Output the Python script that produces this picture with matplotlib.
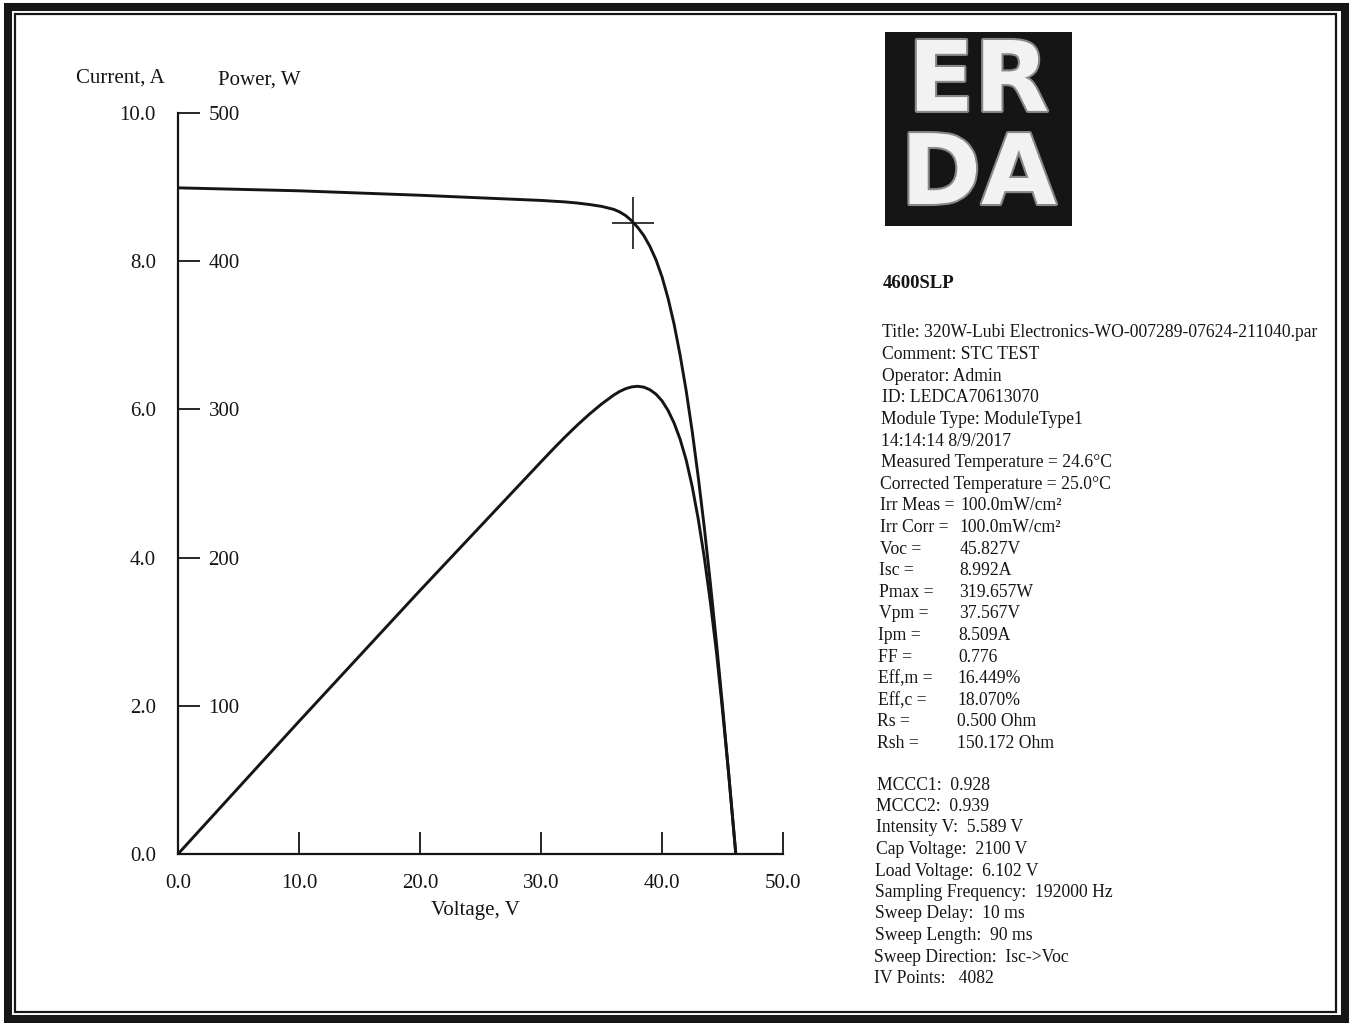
import matplotlib
matplotlib.use("Agg")
import matplotlib.pyplot as plt
from matplotlib.patches import Rectangle
import matplotlib.patheffects as pe

# ---------------- data ----------------
voltage = [0, 10, 20, 30, 31, 32, 33, 34, 35, 36, 36.5, 37, 37.5, 38, 38.5, 39,
           39.5, 40, 40.5, 41, 41.5, 42, 42.5, 43, 43.5, 44, 44.5, 45, 45.5, 46.1]
current = [8.99, 8.95, 8.89, 8.82, 8.81, 8.80, 8.785, 8.765, 8.74, 8.70, 8.665,
           8.615, 8.545, 8.455, 8.345, 8.20, 8.02, 7.79, 7.50, 7.15, 6.73, 6.25,
           5.70, 5.08, 4.40, 3.65, 2.85, 2.00, 1.10, 0.0]
power = [0, 89.5, 177.8, 264.6, 273.2, 281.5, 289.4, 296.8, 303.6, 309.6, 312.1,
         314.0, 315.2, 315.6, 315.0, 313.3, 310.3, 305.8, 299.3, 290.8, 279.8,
         265.8, 247.8, 225.8, 199.8, 169.8, 136.3, 97.0, 55.0, 0.0]
vpm, ipm = 37.567, 8.509

x_ticks = [0, 10, 20, 30, 40, 50]
x_ticklabels = ["0.0", "10.0", "20.0", "30.0", "40.0", "50.0"]
i_ticks = [0, 2, 4, 6, 8, 10]
i_ticklabels = ["0.0", "2.0", "4.0", "6.0", "8.0", "10.0"]
p_ticks = [100, 200, 300, 400, 500]
p_ticklabels = ["100", "200", "300", "400", "500"]

header = "4600SLP"
info_lines = [
    "Title: 320W-Lubi Electronics-WO-007289-07624-211040.par",
    "Comment: STC TEST",
    "Operator: Admin",
    "ID: LEDCA70613070",
    "Module Type: ModuleType1",
    "14:14:14 8/9/2017",
    "Measured Temperature = 24.6\u00b0C",
    "Corrected Temperature = 25.0\u00b0C",
]
param_labels = ["Irr Meas =", "Irr Corr =", "Voc =", "Isc =", "Pmax =", "Vpm =",
                "Ipm =", "FF =", "Eff,m =", "Eff,c =", "Rs =", "Rsh ="]
param_values = ["100.0mW/cm\u00b2", "100.0mW/cm\u00b2", "45.827V", "8.992A",
                "319.657W", "37.567V", "8.509A", "0.776", "16.449%", "18.070%",
                "0.500 Ohm", "150.172 Ohm"]
extra_lines = [
    "MCCC1:  0.928",
    "MCCC2:  0.939",
    "Intensity V:  5.589 V",
    "Cap Voltage:  2100 V",
    "Load Voltage:  6.102 V",
    "Sampling Frequency:  192000 Hz",
    "Sweep Delay:  10 ms",
    "Sweep Length:  90 ms",
    "Sweep Direction:  Isc->Voc",
    "IV Points:   4082",
]

# ---------------- figure ----------------
W, H = 1354, 1023
plt.rcParams['font.family'] = ['Liberation Serif', 'DejaVu Serif']
fig = plt.figure(figsize=(W / 100, H / 100), dpi=100)
fig.patch.set_facecolor("white")

def fx(px):
    return px / W

def fy(py):
    return 1 - py / H

ink = "#151515"

# double border
fig.patches.append(Rectangle((fx(8), fy(1018.5)), fx(1345) - fx(8), fy(6.5) - fy(1018.5),
                             transform=fig.transFigure, fill=False, lw=5.8, ec=ink))
fig.patches.append(Rectangle((fx(15), fy(1012)), fx(1336) - fx(15), fy(14) - fy(1012),
                             transform=fig.transFigure, fill=False, lw=1.6, ec=ink))

# main axes
ax = fig.add_axes([fx(178), fy(854), fx(783) - fx(178), fy(113) - fy(854)])
ax.set_xlim(0, 50)
ax.set_ylim(0, 10)
for s in ["top", "right"]:
    ax.spines[s].set_visible(False)
for s in ["left", "bottom"]:
    ax.spines[s].set_linewidth(1.6)
    ax.spines[s].set_color(ink)
ax.set_xticks(x_ticks)
ax.set_xticklabels(x_ticklabels)
ax.set_yticks(i_ticks)
ax.set_yticklabels(i_ticklabels)
ax.tick_params(axis="x", direction="in", length=16, width=1.3, pad=14.5,
               labelsize=15, colors=ink)
ax.tick_params(axis="y", length=0, pad=16, labelsize=15, colors=ink)

ax2 = ax.twinx()
ax2.set_ylim(0, 500)
for s in ["top", "right", "left", "bottom"]:
    ax2.spines[s].set_visible(False)
ax2.spines["right"].set_position(("axes", 0))
ax2.set_yticks(p_ticks)
ax2.set_yticklabels(p_ticklabels)
ax2.tick_params(axis="y", direction="out", length=16, width=1.3, pad=6,
                labelsize=15, colors=ink)

ax.plot(voltage, current, color=ink, lw=2.1, solid_capstyle="round", zorder=3)
ax2.plot(voltage, power, color=ink, lw=2.1, solid_capstyle="round", zorder=3)
ax.plot([vpm], [ipm], marker="|", markersize=37, mew=1.2, color=ink, zorder=4)
ax.plot([vpm], [ipm], marker="_", markersize=30, mew=1.2, color=ink, zorder=4)

# axis titles
fig.text(fx(165), fy(78), "Current, A", ha="right", va="center", fontsize=15, color=ink)
fig.text(fx(218), fy(80), "Power, W", ha="left", va="center", fontsize=15, color=ink)
fig.text(fx(475), fy(910), "Voltage, V", ha="center", va="center", fontsize=15, color=ink)

# logo
lax = fig.add_axes([fx(885), fy(226), fx(1072) - fx(885), fy(32) - fy(226)])
lax.set_facecolor(ink)
lax.set_xticks([])
lax.set_yticks([])
for s in lax.spines.values():
    s.set_visible(False)
lax.set_xlim(0, 1)
lax.set_ylim(0, 1)
peff = [pe.withStroke(linewidth=3, foreground="#888888")]
lax.text(0.5, 0.73, "ER", ha="center", va="center", fontsize=70, color="#f2f2f2",
         fontweight="bold", family="DejaVu Sans", path_effects=peff, clip_on=True)
lax.text(0.5, 0.25, "DA", ha="center", va="center", fontsize=70, color="#f2f2f2",
         fontweight="bold", family="DejaVu Sans", path_effects=peff, clip_on=True)

# text block
def xleft(py):
    return 883 - (py - 284) / (978 - 284) * 9

fig.text(fx(xleft(284)), fy(284), header, ha="left", va="center", fontsize=13.5,
         fontweight="bold", color=ink)

fs = 12.7
step = 21.6
y = 333
for line in info_lines:
    fig.text(fx(xleft(y)), fy(y), line, ha="left", va="center", fontsize=fs, color=ink)
    y += step
for lab, val in zip(param_labels, param_values):
    fig.text(fx(xleft(y)), fy(y), lab, ha="left", va="center", fontsize=fs, color=ink)
    fig.text(fx(xleft(y) + 80), fy(y), val, ha="left", va="center", fontsize=fs, color=ink)
    y += step
y = 785
for line in extra_lines:
    fig.text(fx(xleft(y)), fy(y), line, ha="left", va="center", fontsize=fs, color=ink)
    y += 21.5

fig.savefig("out.png", dpi=100, facecolor="white")
